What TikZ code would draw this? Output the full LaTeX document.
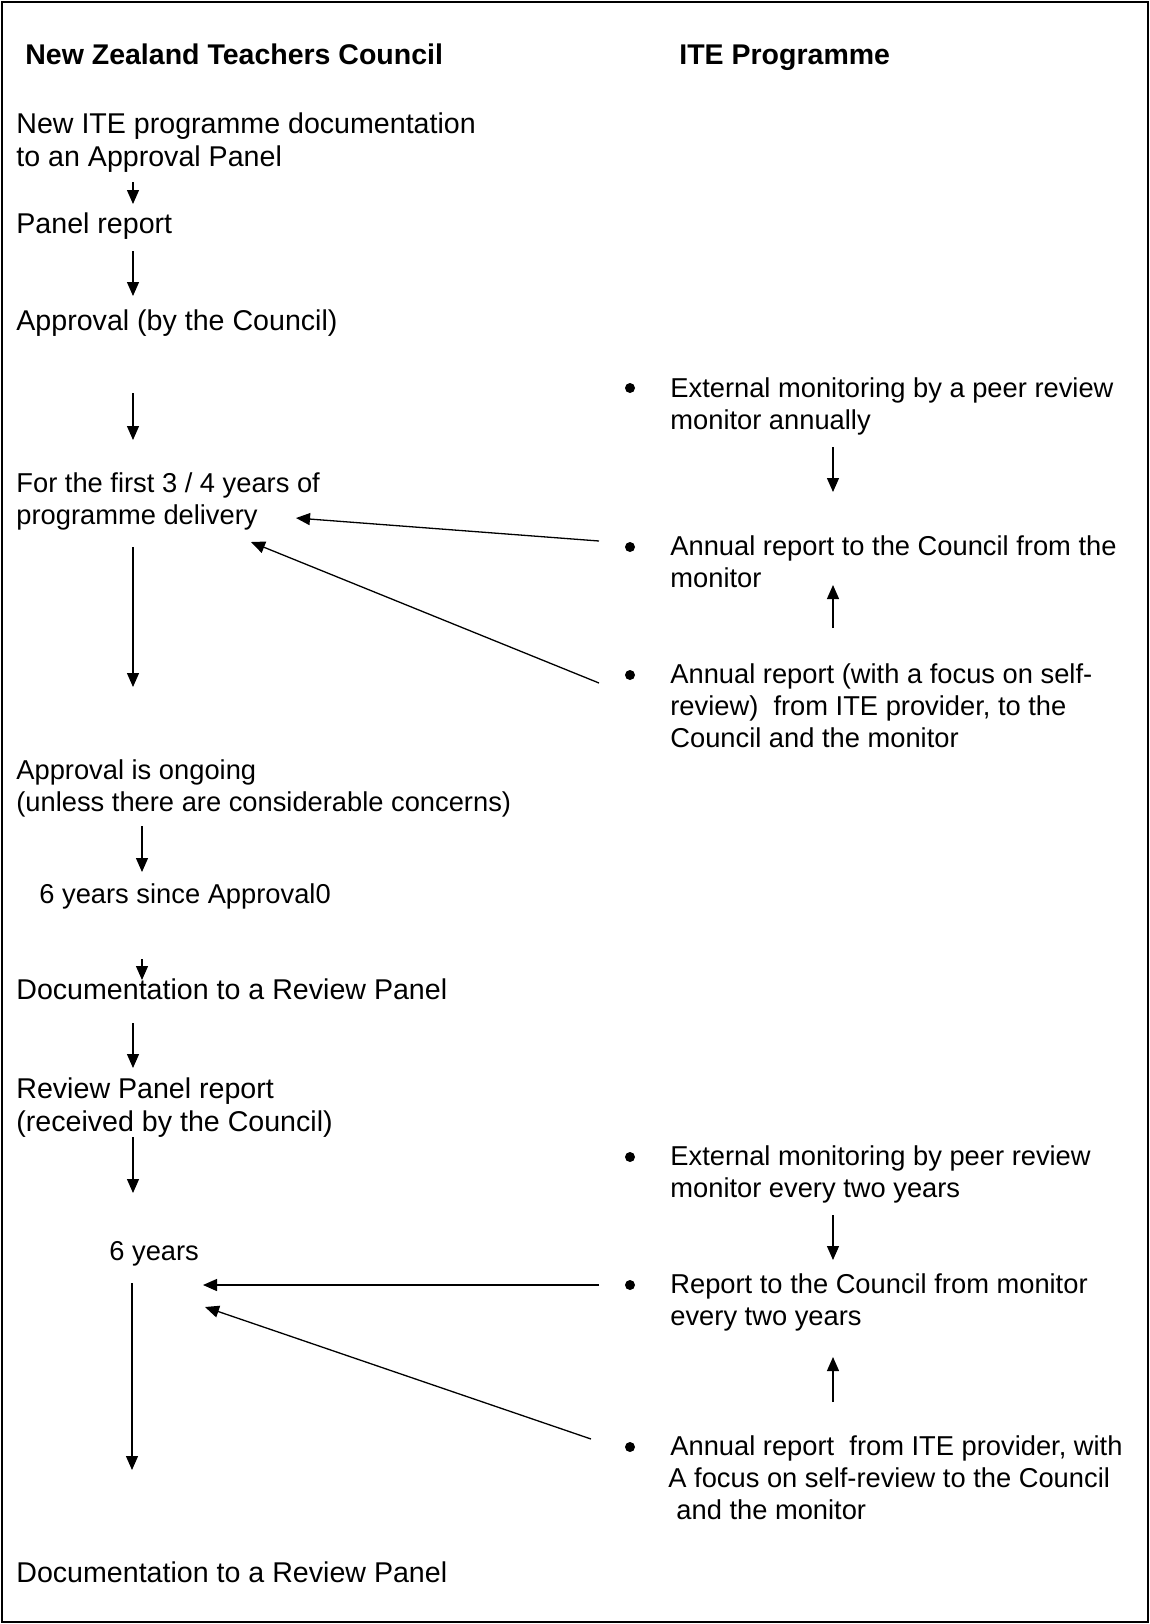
\documentclass[tikz,border=0pt]{standalone}
\usepackage{fontspec}
\setmainfont{Liberation Sans}
\usetikzlibrary{arrows.meta}
\begin{document}
\begin{tikzpicture}[x=0.5pt,y=-0.5pt,
  txt/.style={anchor=base west, inner sep=0pt, align=left, font=\fontsize{14.3pt}{16.5pt}\selectfont},
  stxt/.style={anchor=base west, inner sep=0pt, align=left, font=\fontsize{13.65pt}{16pt}\selectfont},
  ttl/.style={anchor=base west, inner sep=0pt, align=left, font=\fontsize{14.25pt}{16.5pt}\selectfont\bfseries},
  arr/.style={line width=0.65pt, -{Triangle[width=6pt,length=7pt]}},
  dot/.style={circle, fill, inner sep=0pt, minimum size=5pt}]
\useasboundingbox (0,0) rectangle (1150,1624);
\draw[line width=1.1pt] (2,2) rectangle (1148,1622);
% headers
\node[ttl] (nztc) at (25,64) {New Zealand Teachers Council};
\node[ttl] (itep) at (679,64) {ITE Programme};
% left column (multi-line nodes are placed by the baseline of their last line)
\node[txt] (newite) at (16,166) {New ITE programme documentation\\to an Approval Panel};
\node[txt] (panel) at (16,233) {Panel report};
\node[txt] (appr) at (16,330) {Approval (by the Council)};
\node[stxt] (first) at (16,524) {For the first 3 / 4 years of\\programme delivery};
\node[stxt] (ongoing) at (16,811) {Approval is ongoing\\(unless there are considerable concerns)};
\node[stxt] (sixsince) at (39,903) {6 years since Approval0};
\node[txt] (doc1) at (16,999) {Documentation to a Review Panel};
\node[txt] (rpr) at (16,1131) {Review Panel report\\(received by the Council)};
\node[stxt] (six) at (109,1260) {6 years};
\node[txt] (doc2) at (16,1582) {Documentation to a Review Panel};
% right column
\node[dot] (b1) at (630,388) {};
\node[stxt] (ext1) at (670,429) {External monitoring by a peer review\\monitor annually};
\node[dot] (b2) at (630,547) {};
\node[stxt] (ann1) at (670,587) {Annual report to the Council from the\\monitor};
\node[dot] (b3) at (630,675) {};
\node[stxt] (self1) at (670,747) {Annual report (with a focus on self-\\review)\ \ from ITE provider, to the\\Council and the monitor};
\node[dot] (b4) at (630,1157) {};
\node[stxt] (ext2) at (670,1197) {External monitoring by peer review\\monitor every two years};
\node[dot] (b5) at (630,1285) {};
\node[stxt] (rep2) at (670,1325) {Report to the Council from monitor\\every two years};
\node[dot] (b6) at (630,1447) {};
\node[stxt] (ann2) at (670,1519) {Annual report\ \ from ITE provider, with\\\hspace*{-1pt}A focus on self-review to the Council\\\hspace*{3pt}and the monitor};
% arrow end points
\coordinate (a1s) at (133,182);  \coordinate (a1e) at (133,204);
\coordinate (a2s) at (133,251);  \coordinate (a2e) at (133,296);
\coordinate (a3s) at (133,393);  \coordinate (a3e) at (133,440);
\coordinate (a4s) at (133,547);  \coordinate (a4e) at (133,687);
\coordinate (a5s) at (142,826);  \coordinate (a5e) at (142,872);
\coordinate (a6s) at (142,959);  \coordinate (a6e) at (142,980);
\coordinate (a7s) at (133,1023); \coordinate (a7e) at (133,1068);
\coordinate (a8s) at (133,1137); \coordinate (a8e) at (133,1193);
\coordinate (a9s) at (132,1283); \coordinate (a9e) at (132,1470);
\coordinate (r1s) at (833,447);  \coordinate (r1e) at (833,492);
\coordinate (r2s) at (833,628);  \coordinate (r2e) at (833,585);
\coordinate (r3s) at (833,1215); \coordinate (r3e) at (833,1260);
\coordinate (r4s) at (833,1402); \coordinate (r4e) at (833,1357);
\coordinate (d1s) at (599,541);  \coordinate (d1e) at (296,518);
\coordinate (d2s) at (599,683);  \coordinate (d2e) at (251,542);
\coordinate (d3s) at (599,1285); \coordinate (d3e) at (203,1285);
\coordinate (d4s) at (591,1439); \coordinate (d4e) at (205,1307);
% arrows
\foreach \a in {a1,a2,a3,a4,a5,a6,a7,a8,a9,r1,r2,r3,r4,d1,d2,d3,d4}
  \draw[arr] (\a s) -- (\a e);
\end{tikzpicture}
\end{document}
